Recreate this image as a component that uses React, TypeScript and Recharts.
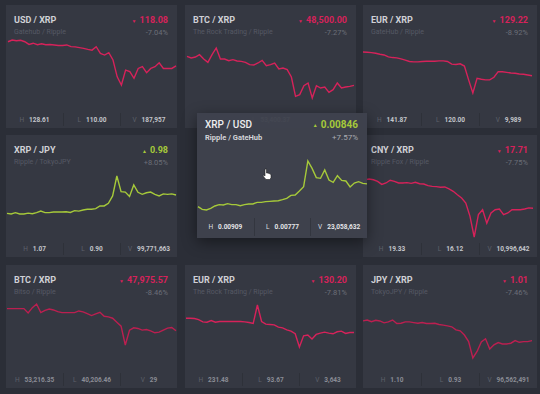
import React from 'react'
import { LineChart, Line, XAxis, YAxis } from 'recharts'

const BG = '#2b2e37'
const CARD = '#353842'
const CARD_HI = 'rgba(63,66,77,0.97)'
const RED = '#d6225a'
const RED_DIM = '#bb1f50'
const GREEN = '#a6c93a'

// sparkline values left to right
const usdXrp = [127.9, 128.6, 128.3, 128.5, 127.9, 126.8, 127.3, 126.7, 127.1, 126.7, 126.8, 126.6, 126.4, 126.4, 126.6, 125.9, 125.8, 125.5, 125.2, 124.8, 124.5, 125.9, 123.2, 122.5, 123.5, 120.5, 113.7, 110.4, 116.4, 115.8, 113.1, 117.1, 117.8, 115.4, 117.1, 117.8, 119.4, 117.1, 117.1, 117.1, 118.1]
const btcXrpRock = [52307, 52089, 52220, 52526, 51958, 51521, 52526, 53400, 51958, 51958, 51739, 51870, 51696, 51652, 51521, 51215, 51171, 51434, 51783, 51084, 51215, 51434, 50647, 50778, 50560, 49598, 47064, 47282, 48462, 48812, 46845, 48462, 48156, 48287, 47588, 47938, 48812, 48156, 48287, 48375, 48506]
const eurXrpGate = [141.87, 141.7, 141.52, 141.17, 140.65, 140.3, 139.25, 138.9, 138.72, 138.2, 137.5, 136.8, 136.62, 136.62, 136.8, 136.97, 136.97, 136.97, 137.15, 137.15, 136.8, 135.4, 135.22, 135.57, 134.35, 126.99, 120.0, 127.87, 127.35, 126.99, 126.99, 128.4, 131.37, 131.37, 131.02, 130.67, 130.5, 130.15, 129.97, 129.62, 129.22]
const xrpJpy = [0.903, 0.9, 0.906, 0.9, 0.9, 0.904, 0.901, 0.906, 0.913, 0.906, 0.906, 0.909, 0.909, 0.909, 0.91, 0.907, 0.915, 0.913, 0.918, 0.921, 0.921, 0.924, 0.936, 0.936, 0.948, 0.981, 1.07, 1.0, 0.998, 0.978, 1.03, 0.997, 0.988, 0.995, 0.998, 0.988, 0.981, 0.99, 0.988, 0.99, 0.985]
const xrpUsd = [0.007858, 0.007788, 0.00777, 0.007814, 0.007876, 0.007911, 0.007902, 0.007937, 0.007911, 0.007911, 0.007884, 0.007911, 0.007928, 0.007928, 0.007972, 0.007972, 0.00799, 0.007999, 0.008008, 0.008016, 0.008043, 0.008078, 0.008157, 0.008166, 0.008272, 0.008386, 0.009064, 0.00887, 0.008624, 0.008606, 0.008826, 0.008562, 0.0085, 0.008676, 0.008553, 0.008536, 0.008377, 0.008483, 0.008518, 0.008474, 0.00846]
const cnyXrp = [19.29, 19.33, 19.29, 19.2, 19.03, 19.11, 19.26, 19.2, 19.11, 19.11, 19.13, 19.09, 19.15, 19.07, 19.05, 18.96, 18.92, 18.91, 18.87, 18.89, 18.78, 18.65, 18.46, 18.28, 18.0, 17.26, 16.12, 17.36, 17.63, 16.89, 17.45, 17.63, 17.67, 17.36, 17.45, 17.63, 17.63, 17.63, 17.67, 17.73, 17.71]
const btcXrpBitso = [50655, 50655, 50655, 50655, 50655, 50135, 50775, 51215, 50175, 50455, 50615, 50495, 50295, 50175, 50175, 50175, 50175, 50375, 50255, 50055, 49815, 50015, 50215, 49735, 49655, 49495, 49015, 48535, 46255, 48055, 48335, 48255, 48055, 48135, 47975, 47735, 47815, 48055, 48295, 48375, 47975]
const eurXrpRock = [135.36, 135.36, 135.24, 134.88, 134.04, 133.92, 134.52, 133.92, 134.16, 134.16, 134.16, 134.16, 134.16, 134.16, 134.04, 133.8, 133.44, 140.16, 134.16, 133.2, 133.08, 132.96, 132.12, 131.88, 131.16, 130.68, 129.72, 124.92, 129.0, 129.24, 127.8, 129.48, 129.96, 130.32, 129.96, 129.72, 130.44, 130.68, 129.84, 130.2, 130.2]
const jpyXrp = [1.094, 1.098, 1.091, 1.097, 1.094, 1.086, 1.09, 1.098, 1.083, 1.084, 1.09, 1.09, 1.087, 1.084, 1.087, 1.083, 1.083, 1.084, 1.079, 1.076, 1.073, 1.069, 1.056, 1.052, 1.034, 1.006, 0.936, 0.964, 1.004, 1.018, 0.974, 0.992, 1.002, 0.996, 0.996, 0.999, 1.01, 1.003, 1.006, 1.006, 1.01]

interface CardProps {
  x: number
  y: number
  w: number
  h: number
  title: string
  sub: string
  price: string
  change: string
  up: boolean
  stats: [string, string, string]
  values: number[]
  line: [number, number, number, number] // left, right, top, bottom inside card
  color: string
  hi?: boolean
  dim?: boolean
}

function Card(p: CardProps) {
  const data = p.values.map((v, i) => ({ i, v }))
  const [l, r, t, b] = p.line
  const hi = !!p.hi
  const statY = hi ? 107 : 110
  return (
    <div
      style={{
        position: 'absolute',
        left: p.x,
        top: p.y,
        width: p.w,
        height: p.h,
        background: hi ? CARD_HI : CARD,
        boxShadow: hi ? '0 4px 14px rgba(0,0,0,0.45)' : 'none',
        fontFamily: 'Roboto, sans-serif',
        overflow: 'hidden',
      }}
    >
      <div style={{ position: 'absolute', left: 8, top: hi ? 6 : 10, fontSize: hi ? 10 : 9, fontWeight: hi ? 500 : 700, color: hi ? '#eeeef0' : '#cfd0d5', whiteSpace: 'nowrap' }}>
        {p.title}
      </div>
      <div style={{ position: 'absolute', left: 8, top: hi ? 20 : 23, fontSize: hi ? 7.5 : 7, fontWeight: hi ? 700 : 400, color: hi ? '#d2d4d8' : '#565965', whiteSpace: 'nowrap' }}>
        {p.sub}
      </div>
      <div style={{ position: 'absolute', right: 9, top: hi ? 6 : 10, fontSize: hi ? 10 : 9, fontWeight: 700, color: p.up ? GREEN : RED, whiteSpace: 'nowrap' }}>
        <span style={{ fontSize: 5, verticalAlign: 'middle', marginRight: 3 }}>{p.up ? '▲' : '▼'}</span>
        {p.price}
      </div>
      <div style={{ position: 'absolute', right: 9, top: hi ? 20 : 23, fontSize: hi ? 8 : 7.5, color: hi ? '#a9abb1' : '#6b6e78', whiteSpace: 'nowrap' }}>
        {p.change}
      </div>
      <div style={{ position: 'absolute', left: l - 2, top: t - 2 }}>
        <LineChart width={r - l + 4} height={b - t + 4} data={data} margin={{ top: 2, right: 2, bottom: 2, left: 2 }}>
          <XAxis dataKey="i" hide />
          <YAxis hide domain={['dataMin', 'dataMax']} />
          <Line type="linear" dataKey="v" stroke={p.color} strokeWidth={1.4} dot={false} isAnimationActive={false} />
        </LineChart>
      </div>
      {[0, 1, 2].map((k) => (
        <div
          key={k}
          style={{
            position: 'absolute',
            left: (p.w / 3) * k,
            width: p.w / 3,
            top: statY,
            height: p.h - statY,
            borderLeft: k > 0 ? '1px solid ' + (hi ? '#33363f' : '#2e3139') : 'none',
            boxSizing: 'border-box',
            display: 'flex',
            alignItems: 'center',
            justifyContent: 'center',
            fontSize: 6.5,
            fontWeight: 700,
            whiteSpace: 'nowrap',
            marginTop: -2,
          }}
        >
          {p.stats[k] !== '' && (
            <>
              <span style={{ color: hi ? '#dcdde0' : '#5d606a', marginRight: 5, fontWeight: 400 }}>{['H', 'L', 'V'][k]}</span>
              <span style={{ color: hi ? '#e4e5e8' : p.dim ? '#8a8c95' : '#c3c5ca' }}>{p.stats[k]}</span>
            </>
          )}
        </div>
      ))}
    </div>
  )
}

function Cursor() {
  return (
    <svg style={{ position: 'absolute', left: 262, top: 168 }} width={10} height={12} viewBox="0 0 10 12">
      <path d="M3 1 L4.5 1 L4.5 5 L6 5 L7 5.5 L8.5 6 L9 7 L9 10 L7.5 11.5 L4 11.5 L1 8 L1.5 7 L3 8 Z" fill="#ffffff" stroke="#222" strokeWidth={0.6} />
    </svg>
  )
}

export default function App() {
  return (
    <div style={{ position: 'absolute', left: 0, top: 0, width: 540, height: 394, background: BG, overflow: 'hidden' }}>
      <Card x={6} y={5} w={171} h={123} title="USD / XRP" sub="Gatehub / Ripple" price="118.08" change="-7.04%" up={false}
        stats={['128.61', '110.00', '187,957']} values={usdXrp} line={[2, 170, 35, 80]} color={RED} />
      {/* stats strip of this card is mostly hidden by the raised card; only L shows through */}
      <Card x={185} y={5} w={171} h={123} title="BTC / XRP" sub="The Rock Trading / Ripple" price="48,500.00" change="-7.27%" up={false}
        stats={['', '53,400.37', '']} values={btcXrpRock} line={[2, 169, 43, 93]} color={RED} />
      <Card x={363} y={5} w={174} h={123} title="EUR / XRP" sub="GateHub / Ripple" price="129.22" change="-8.92%" up={false}
        stats={['141.87', '120.00', '9,989']} values={eurXrpGate} line={[0, 169, 47, 88]} color={RED} />
      <Card x={6} y={135} w={171} h={122} title="XRP / JPY" sub="Ripple / TokyoJPY" price="0.98" change="+8.05%" up
        stats={['1.07', '0.90', '99,771,663']} values={xrpJpy} line={[1, 170, 41, 79]} color={GREEN} />
      <Card x={363} y={135} w={174} h={122} title="CNY / XRP" sub="Ripple Fox / Ripple" price="17.71" change="-7.75%" up={false}
        stats={['19.33', '16.12', '10,996,642']} values={cnyXrp} line={[2, 170, 44, 102]} color={RED} />
      <Card x={6} y={265} w={171} h={123} title="BTC / XRP" sub="Bitso / Ripple" price="47,975.57" change="-8.46%" up={false}
        stats={['53,216.35', '40,206.46', '29']} values={btcXrpBitso} line={[1, 170, 39, 80]} color={RED_DIM} dim />
      <Card x={185} y={265} w={171} h={123} title="EUR / XRP" sub="The Rock Trading / Ripple" price="130.20" change="-7.81%" up={false}
        stats={['231.48', '93.67', '3,643']} values={eurXrpRock} line={[1, 169, 40, 82]} color={RED} dim />
      <Card x={363} y={265} w={174} h={123} title="JPY / XRP" sub="TokyoJPY / Ripple" price="1.01" change="-7.46%" up={false}
        stats={['1.10', '0.93', '96,562,491']} values={jpyXrp} line={[0, 169, 55, 93]} color={RED_DIM} dim />
      <Card x={197} y={113} w={170} h={125} title="XRP / USD" sub="Ripple / GateHub" price="0.00846" change="+7.57%" up
        stats={['0.00909', '0.00777', '23,058,632']} values={xrpUsd} line={[1, 170, 48, 97]} color={GREEN} hi />
      <Cursor />
    </div>
  )
}
